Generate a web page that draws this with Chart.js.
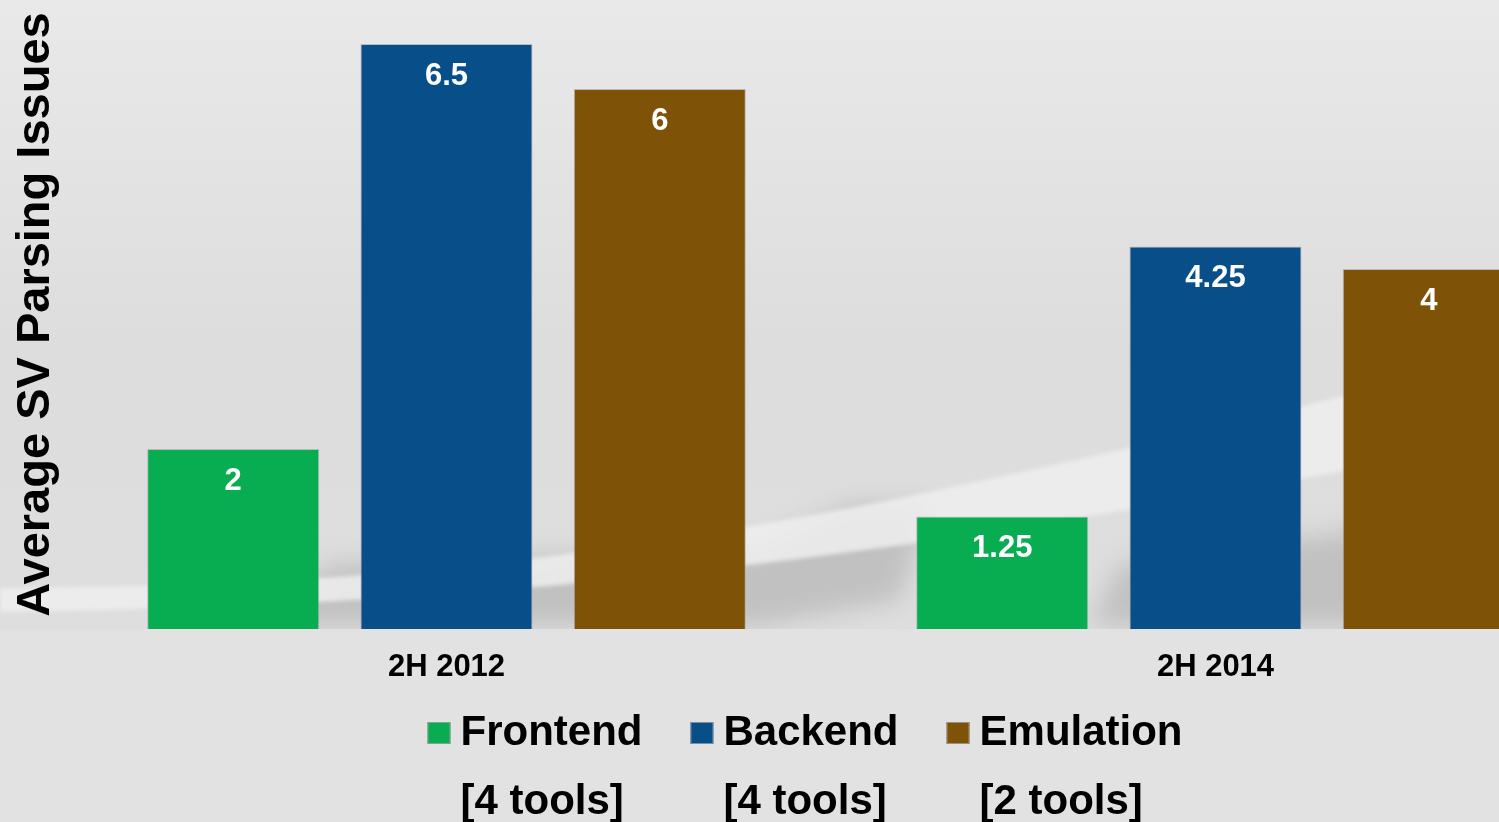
<!DOCTYPE html>
<html lang="en">
<head>
<meta charset="UTF-8">
<title>Average SV Parsing Issues</title>
<script src="https://cdn.jsdelivr.net/npm/chart.js"></script>
<style>
    body {
        margin: 0;
        padding: 0;
        overflow: hidden;
        background: #e2e2e2;
    }
    #wrap {
        width: 1600px;
        height: 822px;
    }
</style>
</head>
<body>
<div id="wrap">
    <canvas id="chart" width="1600" height="822"></canvas>
</div>
<script>
    // data
    const categories = ['2H 2012', '2H 2014'];
    const seriesNames = ['Frontend', 'Backend', 'Emulation'];
    const seriesNotes = ['[4 tools]', '[4 tools]', '[2 tools]'];
    const frontend = [2, 1.25];
    const backend = [6.5, 4.25];
    const emulation = [6, 4];
    const colors = ['#07ad50', '#084e88', '#7f5307'];

    const series = [frontend, backend, emulation];

    // slide-ish background with a light swoosh
    const backgroundPlugin = {
        id: 'slideBackground',
        beforeDraw(chart) {
            const ctx = chart.ctx;
            const w = chart.width, h = chart.height;
            ctx.save();
            let g = ctx.createLinearGradient(0, 0, 0, 630);
            g.addColorStop(0, '#e9e9e9');
            g.addColorStop(0.55, '#dddddd');
            g.addColorStop(1, '#dedede');
            ctx.fillStyle = g;
            ctx.fillRect(0, 0, w, h);

            // soft shadows under the swoosh
            ctx.filter = 'blur(12px)';
            ctx.fillStyle = 'rgba(150,150,150,0.4)';
            ctx.beginPath();
            ctx.moveTo(250, 625);
            ctx.lineTo(330, 565);
            ctx.lineTo(760, 550);
            ctx.lineTo(850, 505);
            ctx.lineTo(930, 505);
            ctx.lineTo(900, 600);
            ctx.lineTo(760, 625);
            ctx.closePath();
            ctx.fill();
            ctx.beginPath();
            ctx.moveTo(1090, 625);
            ctx.lineTo(1120, 565);
            ctx.lineTo(1360, 530);
            ctx.lineTo(1560, 530);
            ctx.lineTo(1560, 625);
            ctx.closePath();
            ctx.fill();
            ctx.filter = 'none';

            // light swoosh band
            ctx.filter = 'blur(2px)';
            ctx.fillStyle = 'rgba(238,238,238,0.85)';
            ctx.beginPath();
            ctx.moveTo(0, 588);
            ctx.bezierCurveTo(500, 585, 800, 540, 1600, 330);
            ctx.lineTo(1600, 420);
            ctx.bezierCurveTo(900, 565, 500, 605, 0, 612);
            ctx.closePath();
            ctx.fill();
            ctx.filter = 'none';

            // flat floor below the bars
            ctx.fillStyle = '#e2e2e2';
            ctx.fillRect(0, chart.chartArea.bottom, w, h - chart.chartArea.bottom);
            ctx.restore();
        }
    };

    // value labels inside the top of every bar
    const valueLabels = {
        id: 'valueLabels',
        afterDatasetsDraw(chart) {
            const ctx = chart.ctx;
            ctx.save();
            ctx.fillStyle = '#ffffff';
            ctx.font = 'bold 31px "Liberation Sans", Arial, sans-serif';
            ctx.textAlign = 'center';
            ctx.textBaseline = 'middle';
            chart.data.datasets.forEach(function (ds, i) {
                chart.getDatasetMeta(i).data.forEach(function (bar, j) {
                    ctx.fillText(String(ds.data[j]), bar.x, bar.y + 32);
                });
            });
            ctx.restore();
        }
    };

    // two line legend at the bottom
    const twoLineLegend = {
        id: 'twoLineLegend',
        afterDraw(chart) {
            const ctx = chart.ctx;
            const font = 'bold 42px "Liberation Sans", Arial, sans-serif';
            const box = 23, gapBox = 10, gapItem = 48;
            ctx.save();
            ctx.font = font;
            const widths = chart.data.datasets.map(ds => ctx.measureText(ds.label).width);
            let total = 0;
            widths.forEach((wd, i) => { total += box + gapBox + wd + (i ? gapItem : 0); });
            let x = chart.width / 2 + 5 - total / 2;
            const y1 = 745, y2 = 814;
            ctx.textBaseline = 'alphabetic';
            ctx.textAlign = 'left';
            chart.data.datasets.forEach(function (ds, i) {
                ctx.fillStyle = ds.backgroundColor;
                ctx.fillRect(x, 722, box, 22);
                ctx.strokeStyle = 'rgba(160,160,160,0.8)';
                ctx.lineWidth = 1;
                ctx.strokeRect(x + 0.5, 722.5, box - 1, 21);
                ctx.fillStyle = '#000000';
                const tx = x + box + gapBox;
                ctx.fillText(ds.label, tx, y1);
                ctx.fillText(seriesNotes[i], tx, y2);
                x = tx + widths[i] + gapItem;
            });
            ctx.restore();
        }
    };

    const ctx = document.getElementById('chart').getContext('2d');
    new Chart(ctx, {
        type: 'bar',
        data: {
            labels: categories,
            datasets: seriesNames.map(function (name, i) {
                return {
                    label: name,
                    data: series[i],
                    backgroundColor: colors[i],
                    borderColor: 'rgba(170,170,170,0.7)',
                    borderWidth: 1,
                    categoryPercentage: 0.832,
                    barPercentage: 0.807
                };
            })
        },
        options: {
            responsive: false,
            animation: false,
            devicePixelRatio: 1,
            layout: { padding: 0 },
            plugins: {
                legend: { display: false },
                tooltip: { enabled: false }
            },
            scales: {
                x: {
                    grid: { display: false },
                    border: { display: false },
                    ticks: {
                        color: '#000000',
                        padding: 12,
                        font: { family: '"Liberation Sans", Arial, sans-serif', size: 31, weight: 'bold' }
                    },
                    afterFit(scale) { scale.height = 193; }
                },
                y: {
                    min: 0,
                    max: 6.99,
                    grid: { display: false },
                    border: { display: false },
                    ticks: { display: false },
                    title: {
                        display: true,
                        text: 'Average SV Parsing Issues',
                        color: '#000000',
                        padding: { top: 8, bottom: 0 },
                        font: { family: '"Liberation Sans", Arial, sans-serif', size: 47, weight: 'bold' }
                    },
                    afterFit(scale) { scale.width = 62; }
                }
            }
        },
        plugins: [backgroundPlugin, valueLabels, twoLineLegend]
    });
</script>
</body>
</html>
